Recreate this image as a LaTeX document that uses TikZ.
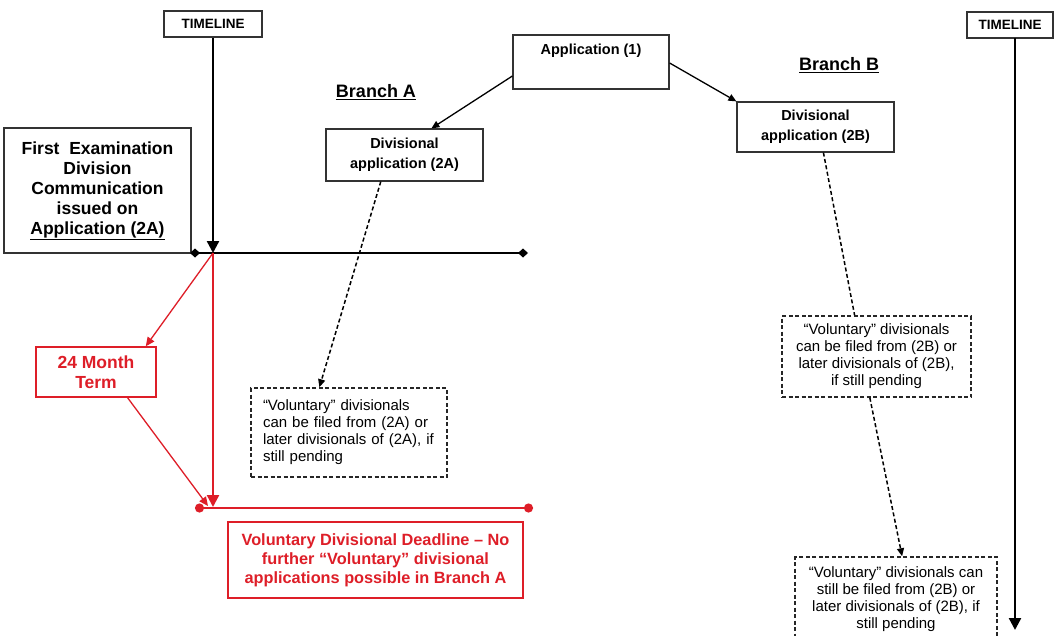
\documentclass[tikz,border=0pt]{standalone}
\usepackage{fontspec}
\setmainfont{Liberation Sans}
\usetikzlibrary{arrows.meta,calc}
\definecolor{dred}{RGB}{222,30,40}
\begin{document}
\begin{tikzpicture}[x=1pt,y=-1pt,
  box/.style={draw=black!80,line width=1.2pt,inner sep=0pt,align=center},
  dbox/.style={draw=black!85,line width=1.5pt,dash pattern=on 4pt off 2.5pt,inner sep=0pt},
  rbox/.style={draw=dred,line width=1.4pt,inner sep=0pt,align=center,text=dred},
  bt/.style={font=\bfseries\fontsize{14.5}{20}\selectfont},
  nt/.style={font=\fontsize{15}{17}\selectfont},
  arr/.style={-{Triangle[length=8pt,width=7pt]},line width=1.3pt},
  bigarr/.style={-{Triangle[length=12pt,width=12pt]},line width=2.4pt},
  darr/.style={line width=1.5pt,dash pattern=on 4pt off 2.5pt},
]
\useasboundingbox (0,0) rectangle (1056,636);
\clip (0,0) rectangle (1056,636);
\fill[white] (0,0) rectangle (1056,636);

% timeline boxes
\node[box,minimum width=98pt,minimum height=26pt,font=\bfseries\fontsize{13.5}{15}\selectfont] (tlL) at (213,24) {TIMELINE};
\node[box,minimum width=86pt,minimum height=26pt,font=\bfseries\fontsize{13.5}{15}\selectfont] (tlR) at (1010,25) {TIMELINE};

% first examination box
\node[box,line width=1.6pt,minimum width=187pt,minimum height=125pt,font=\bfseries\fontsize{17.5}{20}\selectfont] (first) at (97.5,190.5)
  {First\ \ Examination\\Division\\Communication\\issued on\\\underline{Application (2A)}};

% application (1)
\node[box,minimum width=156pt,minimum height=54pt] (app1) at (591,62) {};
\node[bt] (app1t) at (591,51) {Application (1)};

% branch labels
\node[font=\bfseries\fontsize{18}{20}\selectfont] (brA) at (376,92) {\underline{Branch A}};
\node[font=\bfseries\fontsize{18}{20}\selectfont] (brB) at (839,65) {\underline{Branch B}};

% divisional boxes
\node[box,bt,minimum width=157pt,minimum height=52pt] (div2A) at (404.5,155) {Divisional\\application (2A)};
\node[box,bt,minimum width=157pt,minimum height=50pt] (div2B) at (815.5,127) {Divisional\\application (2B)};

% voluntary boxes
\node[dbox,nt,minimum width=196pt,minimum height=89pt,text width=172pt,align=left,inner xsep=12pt] (volA) at (349,432.5)
  {``Voluntary'' divisionals\\can be filed from (2A) or\\later divisionals of (2A), if\\still pending};
\node[dbox,nt,minimum width=189pt,minimum height=81pt,align=center] (volB1) at (876.5,356.5)
  {``Voluntary'' divisionals\\can be filed from (2B) or\\later divisionals of (2B),\\if still pending};
\node[dbox,nt,minimum width=202pt,minimum height=85pt,align=center] (volB2) at (896,599.5)
  {``Voluntary'' divisionals can\\still be filed from (2B) or\\later divisionals of (2B), if\\still pending};

% red boxes
\node[rbox,font=\bfseries\fontsize{17.5}{20}\selectfont,minimum width=120pt,minimum height=50pt] (m24) at (96,372) {24 Month\\Term};
\node[rbox,font=\bfseries\fontsize{16.3}{19}\selectfont,minimum width=295pt,minimum height=76pt] (rdl) at (375.5,560)
  {Voluntary Divisional Deadline -- No\\further ``Voluntary'' divisional\\applications possible in Branch A};

% coordinates
\coordinate (hL) at (190,253);
\coordinate (hR) at (528,253);
\coordinate (hX) at (213,253);
\coordinate (rX) at (213,507);
\coordinate (rX2) at (208,506);
\coordinate (rL) at (195,508);
\coordinate (rR) at (533,508);
\coordinate (tlRs) at (1015,38);
\coordinate (tlRe) at (1015,630);

% black timeline
\draw[line width=2pt,{Diamond[length=10pt,width=9pt]}-{Diamond[length=10pt,width=9pt]}] (hL) -- (hR);
\draw[bigarr] (tlL.south) -- (hX);
\draw[bigarr] (tlRs) -- (tlRe);

% application arrows
\draw[arr] ($(app1.west)+(0,14)$) -- ($(div2A.north west)!0.67!(div2A.north east)$);
\draw[arr] ($(app1.east)+(0,1)$) -- (div2B.north west);

% dashed arrows
\draw[darr,-{Triangle[length=8pt,width=7pt]}] ($(div2A.south west)!0.35!(div2A.south east)$) -- ($(volA.north west)!0.35!(volA.north east)$);
\draw[darr] ($(div2B.south west)!0.55!(div2B.south east)$) -- ($(volB1.north west)!0.385!(volB1.north east)$);
\draw[darr,-{Triangle[length=8pt,width=7pt]}] ($(volB1.south west)!0.465!(volB1.south east)$) -- ($(volB2.north west)!0.53!(volB2.north east)$);

% red items
\draw[dred,line width=2.4pt,-{Triangle[length=12pt,width=12pt]}] (hX) -- (rX);
\draw[dred,line width=1.3pt,-{Triangle[length=9pt,width=8pt]}] (hX) -- ($(m24.north west)!0.91!(m24.north east)$);
\draw[dred,line width=1.3pt,-{Triangle[length=9pt,width=8pt]}] ($(m24.south west)!0.76!(m24.south east)$) -- (rX2);
\draw[dred,line width=2.4pt,{Circle[length=9pt]}-{Circle[length=9pt]}] (rL) -- (rR);
\end{tikzpicture}
\end{document}
